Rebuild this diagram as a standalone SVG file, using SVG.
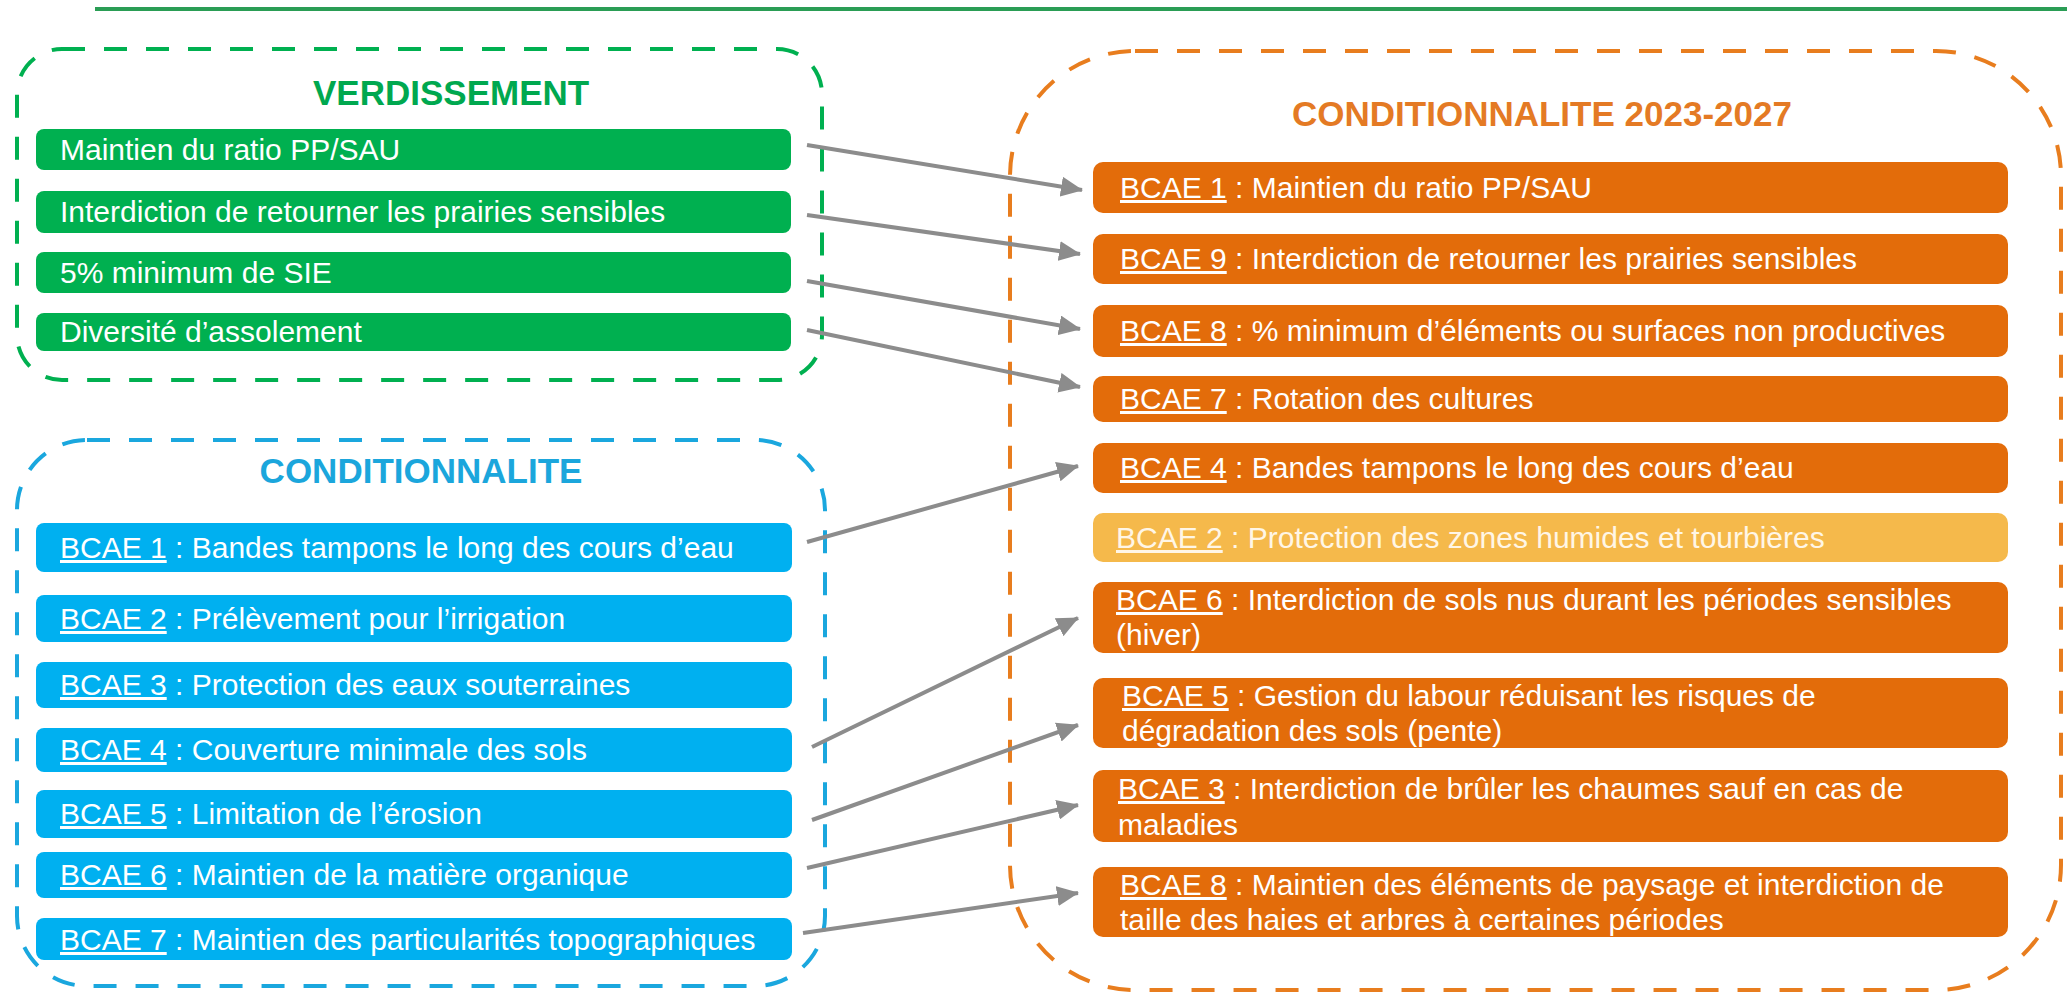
<svg xmlns="http://www.w3.org/2000/svg" width="2067" height="1001" viewBox="0 0 2067 1001">
<style>
.t{font-family:"Liberation Sans",Arial,sans-serif;font-size:30px;fill:#ffffff}
.ttl{font-family:"Liberation Sans",Arial,sans-serif;font-size:35px;font-weight:bold}
.u{text-decoration:underline}
.g{fill:#00b050}
.b{fill:#00b0f0}
.o{fill:#e36c0a}
.lo{fill:#f5b94b}
.dash{fill:none;stroke-width:4;stroke-dasharray:23 19}
.con{stroke:#8c8c8c;stroke-width:4;fill:none;marker-end:url(#ah)}
</style>
<defs>
<marker id="ah" markerUnits="userSpaceOnUse" markerWidth="22" markerHeight="20" refX="21" refY="10" orient="auto">
<path d="M0,0 L22,10 L0,20 z" fill="#8c8c8c"/>
</marker>
</defs>
<rect x="0" y="0" width="2067" height="1001" fill="#ffffff"/>
<line x1="95" y1="9" x2="2067" y2="9" stroke="#2a9d55" stroke-width="4"/>

<g id="verdissement">
<rect class="dash" x="17" y="49" width="805" height="331" rx="45" stroke="#00b050"/>
<text class="ttl" x="313" y="105" fill="#00a84f">VERDISSEMENT</text>
</g>
<g id="v1"><rect class="g" x="36" y="129" width="755" height="41" rx="8"/><text class="t" x="60" y="160">Maintien du ratio PP/SAU</text></g>
<g id="v2"><rect class="g" x="36" y="191" width="755" height="42" rx="8"/><text class="t" x="60" y="222">Interdiction de retourner les prairies sensibles</text></g>
<g id="v3"><rect class="g" x="36" y="252" width="755" height="41" rx="8"/><text class="t" x="60" y="283">5% minimum de SIE</text></g>
<g id="v4"><rect class="g" x="36" y="313" width="755" height="38" rx="8"/><text class="t" x="60" y="342">Diversité d’assolement</text></g>

<g id="conditionnalite">
<rect class="dash" x="17" y="440" width="808" height="546" rx="70" stroke="#1aa7de"/>
<text class="ttl" x="421" y="483" text-anchor="middle" fill="#1ba6dc">CONDITIONNALITE</text>
</g>
<g id="c1"><rect class="b" x="36" y="523" width="756" height="49" rx="8"/><text class="t" x="60" y="558"><tspan class="u">BCAE 1</tspan> : Bandes tampons le long des cours d’eau</text></g>
<g id="c2"><rect class="b" x="36" y="595" width="756" height="47" rx="8"/><text class="t" x="60" y="629"><tspan class="u">BCAE 2</tspan> : Prélèvement pour l’irrigation</text></g>
<g id="c3"><rect class="b" x="36" y="662" width="756" height="46" rx="8"/><text class="t" x="60" y="695"><tspan class="u">BCAE 3</tspan> : Protection des eaux souterraines</text></g>
<g id="c4"><rect class="b" x="36" y="728" width="756" height="44" rx="8"/><text class="t" x="60" y="760"><tspan class="u">BCAE 4</tspan> : Couverture minimale des sols</text></g>
<g id="c5"><rect class="b" x="36" y="790" width="756" height="48" rx="8"/><text class="t" x="60" y="824"><tspan class="u">BCAE 5</tspan> : Limitation de l’érosion</text></g>
<g id="c6"><rect class="b" x="36" y="852" width="756" height="46" rx="8"/><text class="t" x="60" y="885"><tspan class="u">BCAE 6</tspan> : Maintien de la matière organique</text></g>
<g id="c7"><rect class="b" x="36" y="918" width="756" height="42" rx="8"/><text class="t" x="60" y="950"><tspan class="u">BCAE 7</tspan> : Maintien des particularités topographiques</text></g>

<g id="conditionnalite2023">
<rect class="dash" x="1010" y="51" width="1051" height="939" rx="125" stroke="#e87d1e"/>
<text class="ttl" x="1542" y="126" text-anchor="middle" fill="#e47a24">CONDITIONNALITE 2023-2027</text>
</g>
<g id="o1"><rect class="o" x="1093" y="162" width="915" height="51" rx="10"/><text class="t" x="1120" y="198"><tspan class="u">BCAE 1</tspan> : Maintien du ratio PP/SAU</text></g>
<g id="o2"><rect class="o" x="1093" y="234" width="915" height="50" rx="10"/><text class="t" x="1120" y="269"><tspan class="u">BCAE 9</tspan> : Interdiction de retourner les prairies sensibles</text></g>
<g id="o3"><rect class="o" x="1093" y="305" width="915" height="52" rx="10"/><text class="t" x="1120" y="341"><tspan class="u">BCAE 8</tspan> : % minimum d’éléments ou surfaces non productives</text></g>
<g id="o4"><rect class="o" x="1093" y="376" width="915" height="46" rx="10"/><text class="t" x="1120" y="409"><tspan class="u">BCAE 7</tspan> : Rotation des cultures</text></g>
<g id="o5"><rect class="o" x="1093" y="443" width="915" height="50" rx="10"/><text class="t" x="1120" y="478"><tspan class="u">BCAE 4</tspan> : Bandes tampons le long des cours d’eau</text></g>
<g id="o6"><rect class="lo" x="1093" y="513" width="915" height="49" rx="10"/><text class="t" x="1116" y="548" style="fill:#fff6e6"><tspan class="u">BCAE 2</tspan> : Protection des zones humides et tourbières</text></g>
<g id="o7"><rect class="o" x="1093" y="582" width="915" height="71" rx="10"/><text class="t" x="1116" y="610"><tspan class="u">BCAE 6</tspan> : Interdiction de sols nus durant les périodes sensibles</text><text class="t" x="1116" y="645">(hiver)</text></g>
<g id="o8"><rect class="o" x="1093" y="678" width="915" height="70" rx="10"/><text class="t" x="1122" y="706"><tspan class="u">BCAE 5</tspan> : Gestion du labour réduisant les risques de</text><text class="t" x="1122" y="741">dégradation des sols (pente)</text></g>
<g id="o9"><rect class="o" x="1093" y="770" width="915" height="72" rx="10"/><text class="t" x="1118" y="799"><tspan class="u">BCAE 3</tspan> : Interdiction de brûler les chaumes sauf en cas de</text><text class="t" x="1118" y="835">maladies</text></g>
<g id="o10"><rect class="o" x="1093" y="867" width="915" height="70" rx="10"/><text class="t" x="1120" y="895"><tspan class="u">BCAE 8</tspan> : Maintien des éléments de paysage et interdiction de</text><text class="t" x="1120" y="930">taille des haies et arbres à certaines périodes</text></g>

<g id="connectors">
<line class="con" x1="807" y1="145" x2="1082" y2="190"/>
<line class="con" x1="807" y1="215" x2="1080" y2="254"/>
<line class="con" x1="807" y1="281" x2="1080" y2="329"/>
<line class="con" x1="807" y1="330" x2="1080" y2="387"/>
<line class="con" x1="807" y1="542" x2="1078" y2="466"/>
<line class="con" x1="812" y1="747" x2="1078" y2="618"/>
<line class="con" x1="812" y1="820" x2="1078" y2="725"/>
<line class="con" x1="807" y1="868" x2="1078" y2="805"/>
<line class="con" x1="803" y1="933" x2="1078" y2="893"/>
</g>
</svg>
